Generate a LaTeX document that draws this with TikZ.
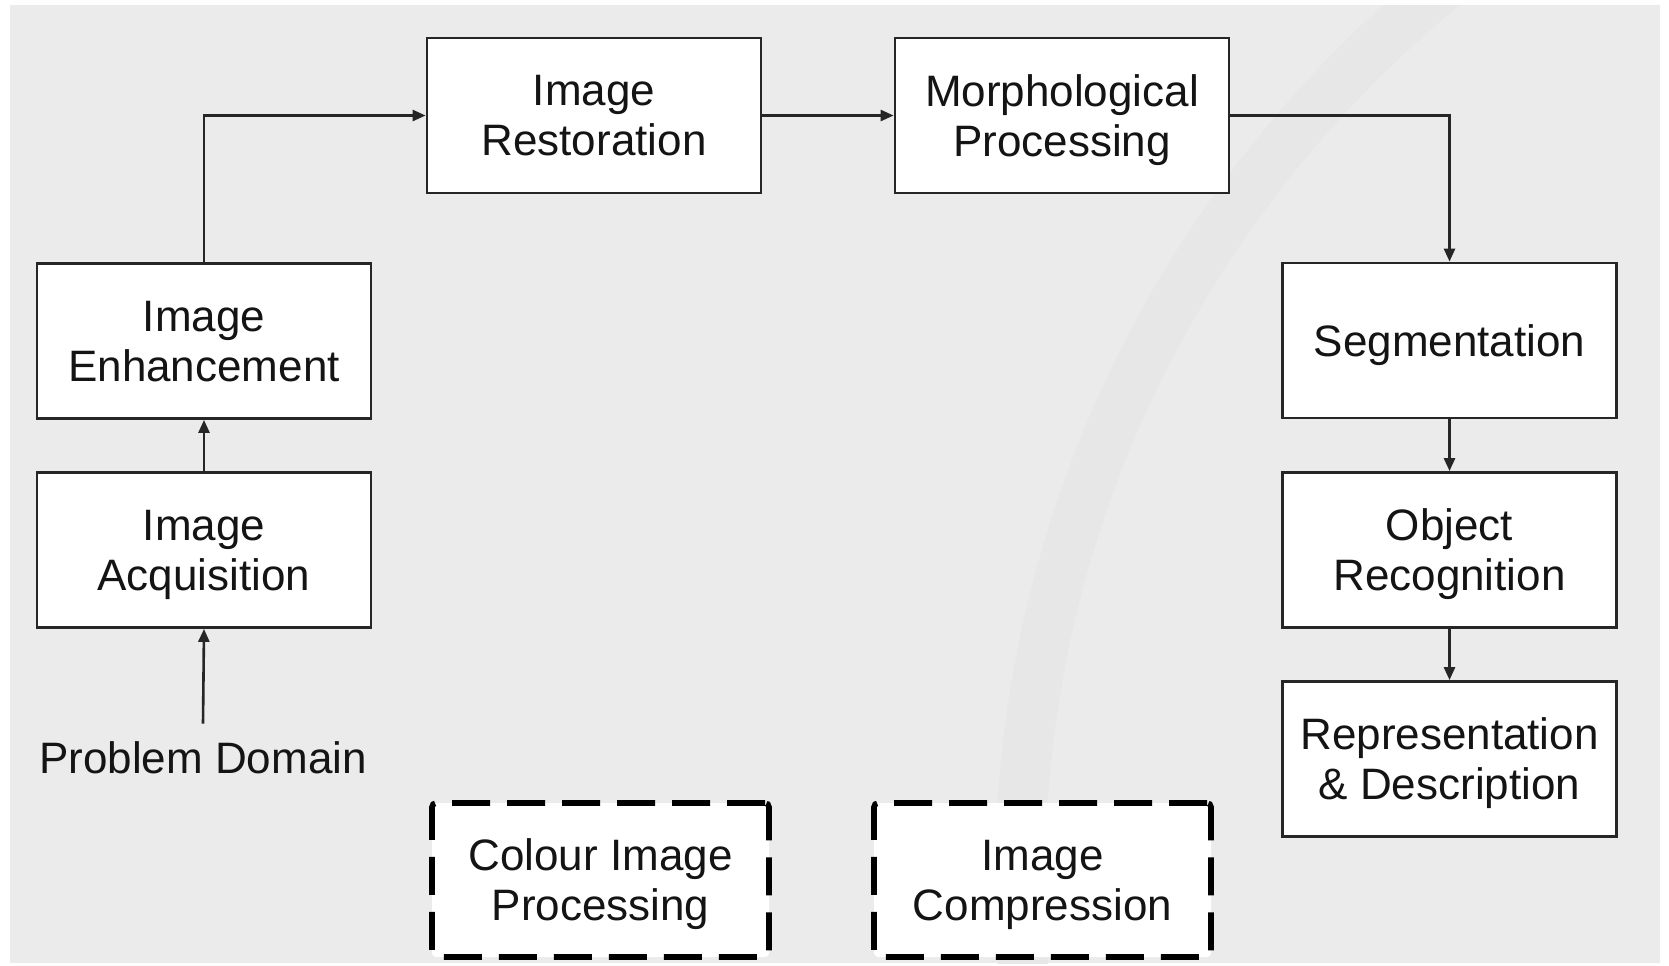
\documentclass[tikz,border=0pt]{standalone}
\usepackage{fontspec}
\setmainfont{Liberation Sans}
\usetikzlibrary{arrows.meta}
\definecolor{bg}{HTML}{EBEBEB}
\definecolor{wm}{HTML}{E7E7E7}
\definecolor{ln}{HTML}{262626}
\definecolor{tx}{HTML}{141414}
\begin{document}
\begin{tikzpicture}[x=0.5pt,y=-0.5pt,
  box/.style={draw=ln, line width=1.4pt, fill=white, minimum width=167pt, minimum height=77.5pt,
    align=center, inner sep=0pt, text depth=0pt, text=tx, font=\fontsize{22}{25}\selectfont},
  dbox/.style={box, draw=black, line width=2.8pt, minimum width=168.5pt, minimum height=77pt,
    dash pattern=on 19pt off 8.5pt, rounded corners=2pt},
  arr/.style={draw=ln, line width=1.3pt, -{Triangle[length=6.5pt,width=5.5pt]}},
  lbl/.style={text=tx, inner sep=0pt, font=\fontsize{22}{25}\selectfont}
]
\useasboundingbox (0,0) rectangle (1669,965);
\fill[white] (0,0) rectangle (1669,965);
\fill[bg] (10,5) rectangle (1660,963);
\begin{scope}
\clip (10,5) rectangle (1660,963);
\draw[wm, line width=25pt] (2175,880) circle[radius=1155];
\end{scope}

\node[box] (rest) at (594,115.5) {Image\\Restoration};
\node[box] (morph) at (1062,115.5) {Morphological\\Processing};
\node[box] (enh) at (204,341) {Image\\Enhancement};
\node[box] (acq) at (204,550) {Image\\Acquisition};
\node[box] (seg) at (1449.5,340.5) {Segmentation};
\node[box] (obj) at (1449.5,550) {Object\\Recognition};
\node[box] (rep) at (1449.5,759) {Representation\\\&~Description};
\node[dbox] (col) at (600.5,880) {Colour Image\\Processing};
\node[dbox] (comp) at (1042.5,880) {Image\\Compression};
\node[lbl, anchor=base] (pd) at (203,773) {Problem Domain};

\draw[arr] ([yshift=8.5pt]pd.north) -- (acq.south);
\draw[arr] (acq.north) -- (enh.south);
\draw[arr] (enh.north) |- (rest.west);
\draw[arr] (rest.east) -- (morph.west);
\draw[arr] (morph.east) -| (seg.north);
\draw[arr] (seg.south) -- (obj.north);
\draw[arr] (obj.south) -- (rep.north);
\end{tikzpicture}
\end{document}
